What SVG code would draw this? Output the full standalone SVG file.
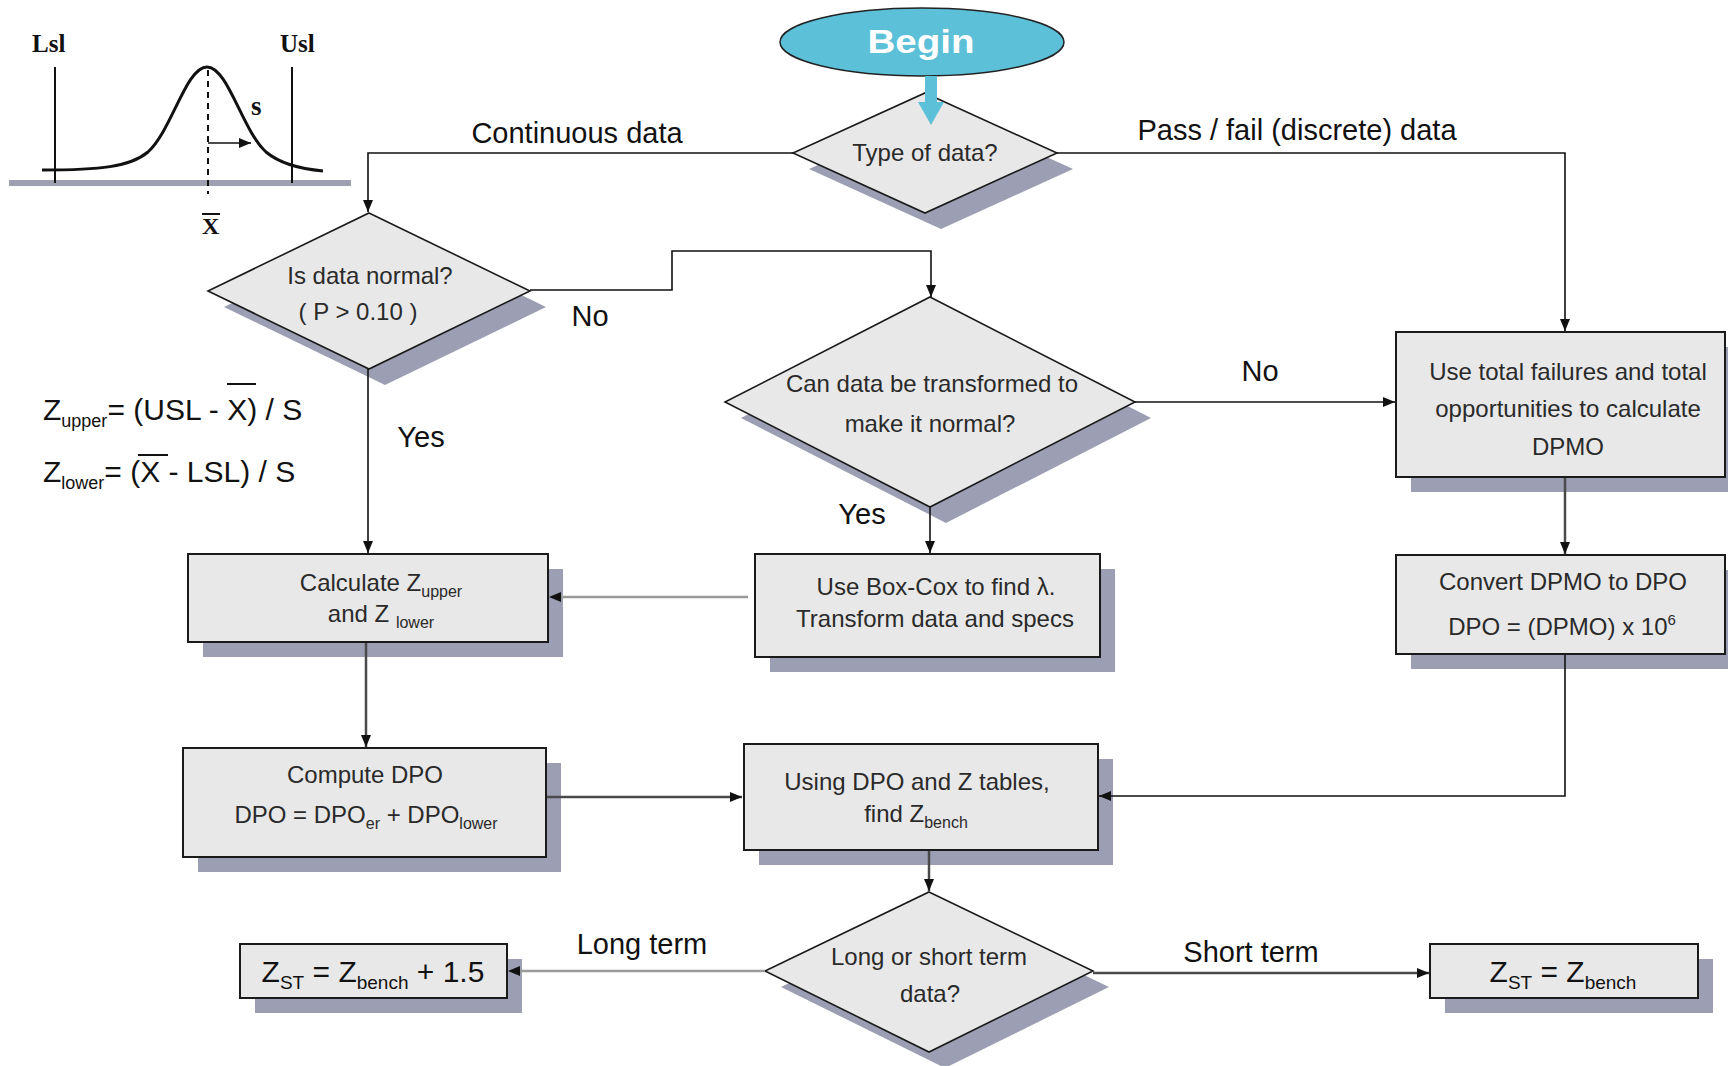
<svg xmlns="http://www.w3.org/2000/svg" width="1728" height="1066" viewBox="0 0 1728 1066">
<defs>
<style>
.bg{fill:#ffffff}
.node{fill:#e8e8e8;stroke:#1a1a1a;stroke-width:2}
.dia{fill:#e8e8e8;stroke:#1a1a1a;stroke-width:1.6}
.shadow{fill:#9c9fb3}
.nt{font-family:"Liberation Sans",Arial,sans-serif;font-size:24px;fill:#2a2a2a;text-anchor:middle}
.lbl{font-family:"Liberation Sans",Arial,sans-serif;font-size:29px;fill:#111;text-anchor:middle}
.fml{font-family:"Liberation Sans",Arial,sans-serif;font-size:30px;fill:#111}
.ser{font-family:"Liberation Serif","Times New Roman",serif;font-weight:bold;fill:#111}
.conn{fill:none;stroke:#111;stroke-width:1.6}
.conn-g{fill:none;stroke:#9a9a9a;stroke-width:2.5}
.conn-d{fill:none;stroke:#4a4a4a;stroke-width:2.5}
</style>
<marker id="ah" viewBox="0 0 12 10" refX="12" refY="5" markerWidth="12" markerHeight="10" markerUnits="userSpaceOnUse" orient="auto">
<path d="M0,0 L12,5 L0,10 z" fill="#111"/>
</marker>
</defs>
<rect class="bg" x="0" y="0" width="1728" height="1066"/>

<!-- normal curve illustration -->
<g id="curve">
<line x1="9" y1="183" x2="351" y2="183" stroke="#9ea0b2" stroke-width="6"/>
<line x1="55" y1="67" x2="55" y2="183" stroke="#111" stroke-width="2"/>
<line x1="292" y1="67" x2="292" y2="183" stroke="#111" stroke-width="2"/>
<path d="M42,170 C100,170 130,167 148,152 C172,130 186,67 207,67 C228,67 242,130 266,152 C284,167 312,170 323,171" fill="none" stroke="#111" stroke-width="3"/>
<line x1="208" y1="70" x2="208" y2="194" stroke="#111" stroke-width="2" stroke-dasharray="6,5"/>
<line x1="208" y1="143" x2="251" y2="143" stroke="#111" stroke-width="1.6" marker-end="url(#ah)"/>
<text class="ser" x="32" y="52" font-size="25">Lsl</text>
<text class="ser" x="280" y="52" font-size="25">Usl</text>
<text class="ser" x="251" y="115" font-size="27">s</text>
<text class="ser" x="202" y="234" font-size="24">X</text>
<line x1="202" y1="214" x2="220" y2="214" stroke="#111" stroke-width="2"/>
</g>

<!-- formulas -->
<g id="formulas">
<text class="fml" x="43" y="420">Z<tspan font-size="18" dy="7">upper</tspan><tspan dy="-7">= (USL - X) / S</tspan></text>
<line x1="227" y1="384" x2="256" y2="384" stroke="#111" stroke-width="2"/>
<text class="fml" x="43" y="482">Z<tspan font-size="18" dy="7">lower</tspan><tspan dy="-7">= (X - LSL) / S</tspan></text>
<line x1="138" y1="455" x2="168" y2="455" stroke="#111" stroke-width="2"/>
</g>

<g id="begin">
<ellipse cx="922" cy="42" rx="142" ry="34" fill="#5bc0d8" stroke="#222" stroke-width="1.5"/>
<text x="921" y="53" font-family="Liberation Sans,Arial,sans-serif" font-weight="bold" font-size="34" fill="#ffffff" text-anchor="middle" textLength="107" lengthAdjust="spacingAndGlyphs">Begin</text>
</g>

<g id="type-of-data">
<polygon class="shadow" points="941,109 1073,169 941,229 809,169"/>
<polygon class="dia" points="925,93 1057,153 925,213 793,153"/>
<text class="nt" x="925" y="161">Type of data?</text>
</g>

<g id="is-normal">
<polygon class="shadow" points="385,229 546,307 385,385 224,307"/>
<polygon class="dia" points="369,213 530,291 369,369 208,291"/>
<text class="nt" x="370" y="284">Is data normal?</text>
<text class="nt" x="358" y="320">( P &gt; 0.10 )</text>
</g>

<g id="can-transform">
<polygon class="shadow" points="946,313 1151,418 946,523 741,418"/>
<polygon class="dia" points="930,297 1135,402 930,507 725,402"/>
<text class="nt" x="932" y="392">Can data be transformed to</text>
<text class="nt" x="930" y="432">make it normal?</text>
</g>

<g id="use-total">
<rect class="shadow" x="1411" y="347" width="329" height="145"/>
<rect class="node" x="1396" y="332" width="329" height="145"/>
<text class="nt" x="1568" y="380">Use total failures and total</text>
<text class="nt" x="1568" y="417">opportunities to calculate</text>
<text class="nt" x="1568" y="455">DPMO</text>
</g>

<g id="convert">
<rect class="shadow" x="1411" y="570" width="329" height="99"/>
<rect class="node" x="1396" y="555" width="329" height="99"/>
<text class="nt" x="1563" y="590">Convert DPMO to DPO</text>
<text class="nt" x="1562" y="635">DPO = (DPMO) x 10<tspan font-size="15" dy="-10">6</tspan></text>
</g>

<g id="calculate">
<rect class="shadow" x="203" y="569" width="360" height="88"/>
<rect class="node" x="188" y="554" width="360" height="88"/>
<text class="nt" x="381" y="591">Calculate Z<tspan font-size="16" dy="6">upper</tspan></text>
<text class="nt" x="381" y="622">and Z <tspan font-size="16" dy="6">lower</tspan></text>
</g>

<g id="box-cox">
<rect class="shadow" x="770" y="569" width="345" height="103"/>
<rect class="node" x="755" y="554" width="345" height="103"/>
<text class="nt" x="936" y="595">Use Box-Cox to find λ.</text>
<text class="nt" x="935" y="627">Transform data and specs</text>
</g>

<g id="compute">
<rect class="shadow" x="198" y="763" width="363" height="109"/>
<rect class="node" x="183" y="748" width="363" height="109"/>
<text class="nt" x="365" y="783">Compute DPO</text>
<text class="nt" x="366" y="823">DPO = DPO<tspan font-size="16" dy="6">er</tspan><tspan dy="-6"> + DPO</tspan><tspan font-size="16" dy="6">lower</tspan></text>
</g>

<g id="using-dpo">
<rect class="shadow" x="759" y="759" width="354" height="106"/>
<rect class="node" x="744" y="744" width="354" height="106"/>
<text class="nt" x="917" y="790">Using DPO and Z tables,</text>
<text class="nt" x="916" y="822">find Z<tspan font-size="16" dy="6">bench</tspan></text>
</g>

<g id="long-short">
<polygon class="shadow" points="945,908 1109,987 945,1068 781,987"/>
<polygon class="dia" points="929,892 1093,971 929,1052 765,971"/>
<text class="nt" x="929" y="965">Long or short term</text>
<text class="nt" x="930" y="1002">data?</text>
</g>

<g id="zst-long">
<rect class="shadow" x="255" y="959" width="267" height="54"/>
<rect class="node" x="240" y="944" width="267" height="54"/>
<text class="fml" x="373" y="982" text-anchor="middle">Z<tspan font-size="19" dy="7">ST</tspan><tspan dy="-7"> = Z</tspan><tspan font-size="19" dy="7">bench</tspan><tspan dy="-7"> + 1.5</tspan></text>
</g>

<g id="zst-short">
<rect class="shadow" x="1445" y="959" width="268" height="54"/>
<rect class="node" x="1430" y="944" width="268" height="54"/>
<text class="fml" x="1563" y="982" text-anchor="middle">Z<tspan font-size="19" dy="7">ST</tspan><tspan dy="-7"> = Z</tspan><tspan font-size="19" dy="7">bench</tspan></text>
</g>

<!-- connectors -->
<g id="connectors">
<line x1="931" y1="76" x2="931" y2="104" stroke="#5bc0d8" stroke-width="12"/>
<path d="M918,102 L944,102 L931,125 z" fill="#5bc0d8"/>
<polyline class="conn" points="793,153 368,153 368,212" marker-end="url(#ah)"/>
<polyline class="conn" points="1057,153 1565,153 1565,331" marker-end="url(#ah)"/>
<polyline class="conn" points="530,290 672,290 672,251 931,251 931,297" marker-end="url(#ah)"/>
<line class="conn" x1="1135" y1="402" x2="1395" y2="402" marker-end="url(#ah)"/>
<line class="conn" x1="930" y1="507" x2="930" y2="553" marker-end="url(#ah)"/>
<line class="conn" x1="368" y1="369" x2="368" y2="553" marker-end="url(#ah)"/>
<line class="conn-g" x1="748" y1="597" x2="552" y2="597"/>
<path d="M549,597 L561,592 L561,602 z" fill="#111"/>
<line class="conn-d" x1="366" y1="643" x2="366" y2="747" marker-end="url(#ah)"/>
<line class="conn-d" x1="547" y1="797" x2="742" y2="797" marker-end="url(#ah)"/>
<line class="conn-d" x1="1565" y1="478" x2="1565" y2="554" marker-end="url(#ah)"/>
<polyline class="conn" points="1565,655 1565,796 1099,796" marker-end="url(#ah)"/>
<line class="conn-d" x1="929" y1="851" x2="929" y2="891" marker-end="url(#ah)"/>
<line class="conn-g" x1="765" y1="971" x2="512" y2="971"/>
<path d="M508,971 L520,966 L520,976 z" fill="#111"/>
<line class="conn-d" x1="1093" y1="973" x2="1429" y2="973" marker-end="url(#ah)"/>
<text class="lbl" x="577" y="143" font-size="28">Continuous data</text>
<text class="lbl" x="1297" y="140">Pass / fail (discrete) data</text>
<text class="lbl" x="590" y="326">No</text>
<text class="lbl" x="1260" y="381">No</text>
<text class="lbl" x="421" y="447">Yes</text>
<text class="lbl" x="862" y="524">Yes</text>
<text class="lbl" x="642" y="954">Long term</text>
<text class="lbl" x="1251" y="962">Short term</text>
</g>
</svg>
